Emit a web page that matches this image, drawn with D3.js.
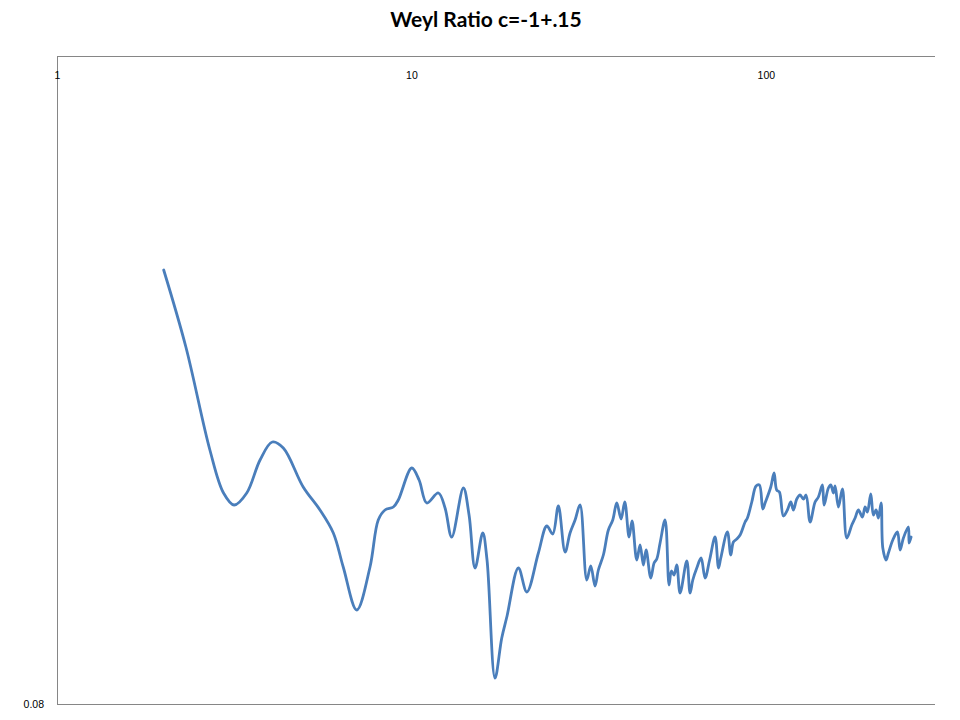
<!DOCTYPE html>
<html>
<head>
<meta charset="utf-8">
<script src="https://cdn.jsdelivr.net/npm/d3@7"></script>
<style>
  html, body { margin: 0; padding: 0; background: #fff; }
  svg { display: block; }
</style>
</head>
<body>
<svg id="chart" width="960" height="720"></svg>
<script>
const title = "Weyl Ratio c=-1+.15";
const xTicks = [1, 10, 100];
const yTicks = [0.08];
const xDomain = [1, 300];
const yDomain = [0.08, 0.728];

const xValues = [2.0, 2.31, 2.70, 2.95, 3.16, 3.43, 3.74, 4.05, 4.35,
  4.95, 5.52, 6.02, 6.42, 7.01, 7.64, 8.06, 8.42,
  8.89, 9.18, 10.02, 10.51, 11.05, 11.91, 12.44, 12.99, 14.01, 14.54,
  15.12, 15.89, 16.34, 17.21, 17.98, 18.61, 20.03, 21.16, 22.81, 24.09,
  25.04, 25.97, 27.13, 28.02, 28.95, 29.90, 31.24, 32.06, 32.96, 33.68,
  34.79, 35.94, 36.98, 37.96, 39.03, 39.98, 41.12, 41.92, 43.22, 44.16,
  45.12, 45.92, 47.34, 48.37, 49.22, 50.29, 51.95, 53.32, 54.12, 55.08,
  56.05, 57.27, 59.82, 61.11, 62.20, 63.83, 65.64, 67.37, 69.37, 71.89,
  73.52, 74.60, 77.87, 79.61, 80.97, 82.77, 84.57, 87.36, 88.68, 91.25,
  93.83, 95.87, 98.01, 99.48, 103.23, 105.47, 107.26, 109.17, 112.04, 114.99,
  117.56, 119.56, 122.23, 124.89, 127.59, 129.84, 133.27, 137.67, 140.65, 144.35,
  145.95, 150.09, 152.45, 155.05, 156.77, 160.17, 164.38, 169.15, 174.74, 178.52,
  182.39, 187.20, 190.51, 193.38, 197.70, 201.07, 204.62, 207.70, 211.38, 213.73,
  218.36, 221.65, 228.08, 234.99, 239.16, 244.34, 252.40, 253.55, 256.87];

const ratioValues = [0.514, 0.437, 0.334, 0.291, 0.279, 0.291, 0.324, 0.342, 0.336,
  0.297, 0.274, 0.251, 0.217, 0.174, 0.217, 0.264, 0.274,
  0.277, 0.284, 0.316, 0.304, 0.281, 0.291, 0.276, 0.247, 0.296, 0.269,
  0.216, 0.251, 0.224, 0.106, 0.146, 0.168, 0.216, 0.192, 0.231, 0.258,
  0.250, 0.278, 0.232, 0.251, 0.264, 0.279, 0.204, 0.218, 0.198, 0.214,
  0.229, 0.254, 0.264, 0.281, 0.265, 0.282, 0.247, 0.263, 0.224, 0.239,
  0.219, 0.234, 0.206, 0.221, 0.225, 0.241, 0.264, 0.199, 0.213, 0.209,
  0.219, 0.191, 0.223, 0.191, 0.204, 0.216, 0.226, 0.206, 0.224, 0.247,
  0.216, 0.226, 0.252, 0.229, 0.242, 0.245, 0.249, 0.262, 0.266, 0.282,
  0.298, 0.299, 0.275, 0.281, 0.297, 0.311, 0.294, 0.292, 0.268, 0.274,
  0.282, 0.274, 0.285, 0.289, 0.285, 0.289, 0.262, 0.282, 0.287, 0.299,
  0.279, 0.296, 0.299, 0.291, 0.298, 0.277, 0.295, 0.246, 0.259, 0.266,
  0.274, 0.267, 0.277, 0.272, 0.290, 0.269, 0.274, 0.266, 0.281, 0.236,
  0.224, 0.231, 0.244, 0.252, 0.234, 0.246, 0.257, 0.241, 0.247];

const data = xValues.map((x, i) => ({ x, y: ratioValues[i] }));

const svg = d3.select("#chart");
const mLeft = 57, mRight = 935, mTop = 56, mBottom = 704;

const x = d3.scaleLog().domain(xDomain).range([mLeft, mRight]);
const y = d3.scaleLinear().domain(yDomain).range([mBottom, mTop]);

// Title
svg.append("text")
  .attr("x", 486).attr("y", 27)
  .attr("text-anchor", "middle")
  .attr("font-family", "Lato, 'Open Sans', sans-serif")
  .attr("font-weight", "bold")
  .attr("font-size", 21)
  .attr("fill", "#000")
  .text(title);

// Frame lines: top (x axis), left (y axis), bottom
svg.append("line").attr("x1", mLeft).attr("x2", mRight).attr("y1", mTop + 0.5).attr("y2", mTop + 0.5)
  .attr("stroke", "#868686").attr("stroke-width", 1);
svg.append("line").attr("x1", mLeft + 0.5).attr("x2", mLeft + 0.5).attr("y1", mTop).attr("y2", mBottom)
  .attr("stroke", "#868686").attr("stroke-width", 1);
svg.append("line").attr("x1", mLeft).attr("x2", mRight).attr("y1", mBottom + 0.5).attr("y2", mBottom + 0.5)
  .attr("stroke", "#868686").attr("stroke-width", 1);

// X axis (labels inside plot, under the top line)
const xAxis = d3.axisBottom(x).tickValues(xTicks).tickFormat(d3.format("d")).tickSize(0).tickPadding(16);
const gx = svg.append("g").attr("transform", `translate(0,${mTop})`).call(xAxis);
gx.select(".domain").remove();
gx.selectAll("text").attr("font-family", "'Liberation Sans', Arial, sans-serif").attr("font-size", 10.5).attr("fill", "#000");

// Y axis
const yAxis = d3.axisLeft(y).tickValues(yTicks).tickFormat(d3.format(".2f")).tickSize(0).tickPadding(13);
const gy = svg.append("g").attr("transform", `translate(${mLeft},0)`).call(yAxis);
gy.select(".domain").remove();
gy.selectAll("text").attr("font-family", "'Liberation Sans', Arial, sans-serif").attr("font-size", 10.5).attr("fill", "#000");

// Line
const line = d3.line()
  .x(d => x(d.x))
  .y(d => y(d.y))
  .curve(d3.curveCatmullRom.alpha(0.5));

svg.append("path")
  .datum(data)
  .attr("fill", "none")
  .attr("stroke", "#4a7ebb")
  .attr("stroke-width", 2.8)
  .attr("stroke-linejoin", "round")
  .attr("stroke-linecap", "round")
  .attr("d", line);
</script>
</body>
</html>
